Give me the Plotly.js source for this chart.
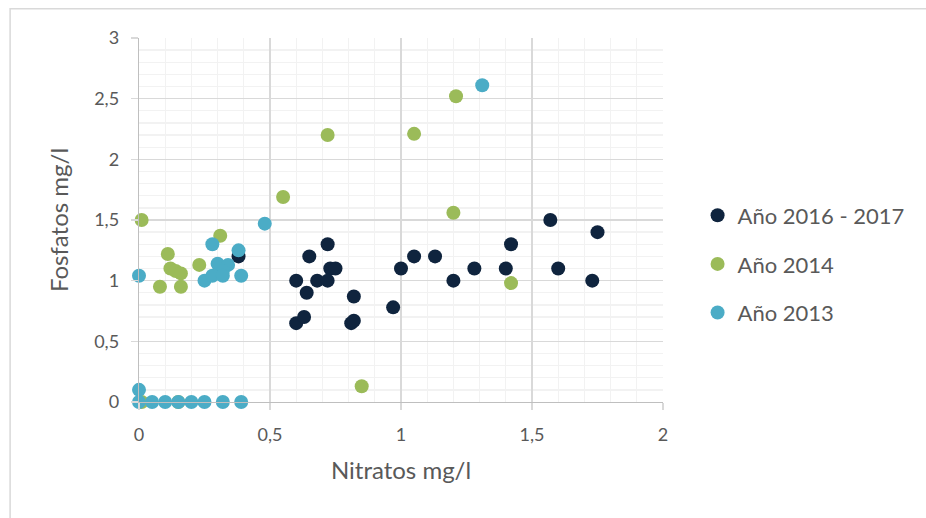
<!DOCTYPE html>
<html>
<head>
<meta charset="utf-8">
<script src="https://cdn.plot.ly/plotly-3.0.1.min.js"></script>
<style>html,body{margin:0;padding:0;background:#fff;}#chart{width:926px;height:518px;}</style>
</head>
<body>
<div id="chart"></div>
<script>
// Año 2016 - 2017
const x2016 = [0.72, 0.65, 0.73, 0.75, 0.60, 0.68, 0.72, 0.64, 0.82, 0.60, 0.63, 0.81, 0.82, 0.97, 1.00, 1.05, 1.13, 1.20, 1.28, 1.40, 1.42, 1.57, 1.60, 1.73, 1.75, 0.38];
const y2016 = [1.30, 1.20, 1.10, 1.10, 1.00, 1.00, 1.00, 0.90, 0.87, 0.65, 0.70, 0.65, 0.67, 0.78, 1.10, 1.20, 1.20, 1.00, 1.10, 1.10, 1.30, 1.50, 1.10, 1.00, 1.40, 1.20];
// Año 2014
const x2014 = [0.01, 0.31, 0.11, 0.12, 0.14, 0.16, 0.23, 0.08, 0.16, 0.55, 0.72, 1.05, 1.21, 1.20, 1.42, 0.85, 0.15, 0.01];
const y2014 = [1.50, 1.37, 1.22, 1.10, 1.08, 1.06, 1.13, 0.95, 0.95, 1.69, 2.20, 2.21, 2.52, 1.56, 0.98, 0.13, 0.00, 0.00];
// Año 2013
const x2013 = [0.00, 0.48, 0.28, 0.38, 0.30, 0.34, 0.32, 0.25, 0.28, 0.32, 0.39, 1.31, 0.00, 0.00, 0.05, 0.10, 0.15, 0.20, 0.25, 0.32, 0.39];
const y2013 = [1.04, 1.47, 1.30, 1.25, 1.14, 1.13, 1.08, 1.00, 1.04, 1.04, 1.04, 2.61, 0.10, 0.00, 0.00, 0.00, 0.00, 0.00, 0.00, 0.00, 0.00];

const seriesNames = ['Año 2016 - 2017', 'Año 2014', 'Año 2013'];
const seriesColors = ['#0F243E', '#9BBB59', '#4BACC6'];

const FONT = 'Lato, "Open Sans", sans-serif';
const mk = (x, y, i) => ({
  type: 'scatter', mode: 'markers', x: x, y: y, name: seriesNames[i],
  legendgroup: 'g' + i, cliponaxis: false,
  marker: {color: seriesColors[i], size: 14, line: {width: 0}}
});
const data = [mk(x2016, y2016, 0), mk(x2014, y2014, 1), mk(x2013, y2013, 2)];

const axisCommon = {
  showgrid: true, gridcolor: '#d9d9d9', gridwidth: 1.3,
  showline: true, linecolor: '#bfbfbf', linewidth: 1.3,
  ticks: 'outside', ticklen: 7, tickcolor: '#d9d9d9', tickwidth: 1.3,
  zeroline: false, fixedrange: true,
  tickfont: {family: FONT, size: 18, color: '#595959'}
};

const layout = {
  width: 926, height: 518,
  margin: {l: 139, r: 263, t: 38, b: 116},
  paper_bgcolor: '#ffffff', plot_bgcolor: '#ffffff',
  separators: ', ',
  font: {family: FONT, color: '#595959'},
  showlegend: true,
  legend: {x: 1.066, y: 0.57, xanchor: 'left', yanchor: 'top',
           font: {family: FONT, size: 22, color: '#595959'},
           tracegroupgap: 17, itemwidth: 30, bgcolor: 'rgba(0,0,0,0)'},
  xaxis: Object.assign({}, axisCommon, {
    range: [0, 2], dtick: 0.5, tick0: 0,
    minor: {showgrid: true, gridcolor: '#f2f2f2', gridwidth: 1.3, dtick: 0.1},
    title: {text: 'Nitratos mg/l', font: {family: FONT, size: 24, color: '#595959'}, standoff: 18},
    ticklabelstandoff: 9
  }),
  yaxis: Object.assign({}, axisCommon, {
    range: [0, 3], dtick: 0.5, tick0: 0,
    minor: {showgrid: true, gridcolor: '#f2f2f2', gridwidth: 1.3, dtick: 0.1},
    title: {text: 'Fosfatos mg/l', font: {family: FONT, size: 24, color: '#595959'}, standoff: 18},
    ticklabelstandoff: 8
  }),
  shapes: [{type: 'rect', xref: 'paper', yref: 'paper',
            x0: -0.246, x1: 1.6, y0: -0.4, y1: 1.0805,
            line: {color: '#d9d9d9', width: 1.5}, layer: 'below'}]
};

Plotly.newPlot('chart', data, layout, {staticPlot: true, displayModeBar: false});
</script>
</body>
</html>
